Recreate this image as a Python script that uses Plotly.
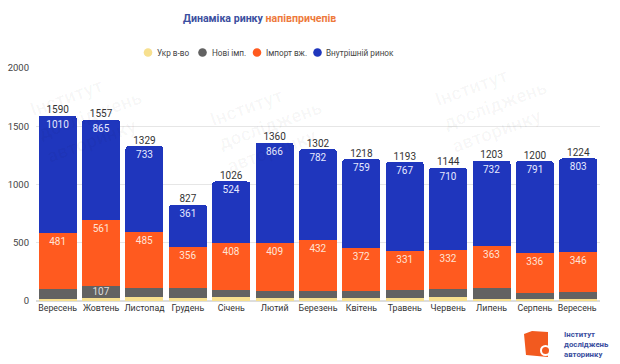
import plotly.graph_objects as go

months = ["Вересень", "Жовтень", "Листопад", "Грудень", "Січень", "Лютий", "Березень",
          "Квітень", "Травень", "Червень", "Липень", "Серпень", "Вересень "]
ukr = [20, 24, 36, 24, 32, 27, 30, 27, 25, 32, 16, 16, 15]
new_imp = [79, 107, 75, 86, 62, 58, 58, 60, 70, 70, 92, 57, 60]
import_used = [481, 561, 485, 356, 408, 409, 432, 372, 331, 332, 363, 336, 346]
domestic = [1010, 865, 733, 361, 524, 866, 782, 759, 767, 710, 732, 791, 803]
totals = [1590, 1557, 1329, 827, 1026, 1360, 1302, 1218, 1193, 1144, 1203, 1200, 1224]
gray_labels = ["", "107", "", "", "", "", "", "", "", "", "", "", ""]
series_names = ["Укр в-во", "Нові імп.", "Імпорт вж.", "Внутрішній ринок"]

C_YEL = "#f7e08f"
C_GRAY = "#626262"
C_ORANGE = "#ff5a1f"
C_BLUE = "#1f36bd"
colors = [C_YEL, C_GRAY, C_ORANGE, C_BLUE]

L, R, T, B = 36, 20, 68, 63
PW, PH = 620 - L - R, 364 - T - B


def px(x):
    return (x - L) / PW


def py(y):
    return (364 - B - y) / PH


fig = go.Figure()
fig.add_bar(x=months, y=ukr, name=series_names[0], marker_color=C_YEL, marker_line_width=0)
fig.add_bar(x=months, y=new_imp, name=series_names[1], marker_color=C_GRAY, marker_line_width=0,
            text=gray_labels, textposition="inside", insidetextanchor="middle",
            textfont=dict(color="#dddddd", size=10), texttemplate="%{text}")
fig.add_bar(x=months, y=import_used, name=series_names[2], marker_color=C_ORANGE, marker_line_width=0,
            text=import_used, textposition="inside", insidetextanchor="end",
            textfont=dict(color="#ffe3d6", size=10), textangle=0)
fig.add_bar(x=months, y=domestic, name=series_names[3], marker_color=C_BLUE, marker_line_width=0,
            text=domestic, textposition="inside", insidetextanchor="end",
            textfont=dict(color="#e6e9ff", size=10), textangle=0)
fig.add_scatter(x=months, y=totals, mode="text", text=[str(t) for t in totals],
                textposition="top center", textfont=dict(color="#333333", size=10),
                hoverinfo="skip")

# faint watermarks (kept fully inside the picture)
wm_text = "<b>Інститут<br>досліджень<br>авторинку</b>"
for wx, wy in [(90, 115), (270, 125), (495, 105)]:
    fig.add_annotation(text=wm_text, xref="paper", yref="paper", x=px(wx), y=py(wy),
                       xanchor="center", yanchor="middle", showarrow=False, textangle=-20,
                       align="left", font=dict(size=19, color="rgba(0,0,0,0.03)"))

# manual legend (round markers, compact spacing)
legend_x = [148, 202.5, 257, 317.5]
for nm, col, lx in zip(series_names, colors, legend_x):
    fig.add_shape(type="circle", xref="paper", yref="paper",
                  x0=px(lx - 4.3), x1=px(lx + 4.3), y0=py(52.5 + 4.3), y1=py(52.5 - 4.3),
                  fillcolor=col, line_width=0)
    fig.add_annotation(text=nm, xref="paper", yref="paper", x=px(lx + 7), y=py(52.5),
                       xanchor="left", yanchor="middle", showarrow=False,
                       font=dict(size=8.2, color="#444444"))

fig.add_annotation(
    text="<b><span style='color:#3b4fa0'>Динаміка ринку </span><span style='color:#ee7a3c'>напівпричепів</span></b>",
    xref="paper", yref="paper", x=px(181), y=py(18), xanchor="left", yanchor="middle",
    showarrow=False, font=dict(size=10.6, family="Roboto"))

# logo
pts = [(524, 334), (532, 331), (548, 332), (548, 357), (526, 355)]
path = "M " + " L ".join(f"{px(a):.5f},{py(b):.5f}" for a, b in pts) + " Z"
fig.add_shape(type="path", xref="paper", yref="paper", path=path,
              fillcolor="#f25a1f", line_width=0)
fig.add_shape(type="circle", xref="paper", yref="paper",
              x0=px(540), x1=px(551), y0=py(356), y1=py(345),
              fillcolor="white", line_width=0)
fig.add_shape(type="circle", xref="paper", yref="paper",
              x0=px(542), x1=px(549), y0=py(354), y1=py(347),
              fillcolor="#f25a1f", line_width=0)
fig.add_annotation(
    text="<b>Інститут<br>досліджень<br>авторинку</b>",
    xref="paper", yref="paper", x=px(562), y=py(344),
    xanchor="left", yanchor="middle", align="left", showarrow=False,
    font=dict(size=7.8, color="#3b4fa0", family="Roboto"))

fig.update_layout(
    barmode="stack",
    bargap=0.125,
    barcornerradius=3,
    showlegend=False,
    width=620, height=364,
    margin=dict(l=L, r=R, t=T, b=B, autoexpand=False),
    plot_bgcolor="white", paper_bgcolor="white",
    font=dict(family="Roboto", color="#333333", size=10),
    xaxis=dict(range=[-0.5, len(months) - 0.5], tickfont=dict(size=8.8, color="#333333"),
               showgrid=False, ticks="", showline=False, tickangle=0, automargin=False),
    yaxis=dict(range=[0, 2000], tickvals=[0, 500, 1000, 1500, 2000],
               gridcolor="#e6e6e6", zeroline=True, zerolinecolor="#dddddd",
               tickfont=dict(size=9.5, color="#444444"), ticks="", ticklabelstandoff=6,
               automargin=False),
    uniformtext=dict(minsize=8, mode="show"),
)

fig.write_html("out.html", config={"displayModeBar": False},
               post_script="document.body.style.margin='0';document.body.style.padding='0';")
